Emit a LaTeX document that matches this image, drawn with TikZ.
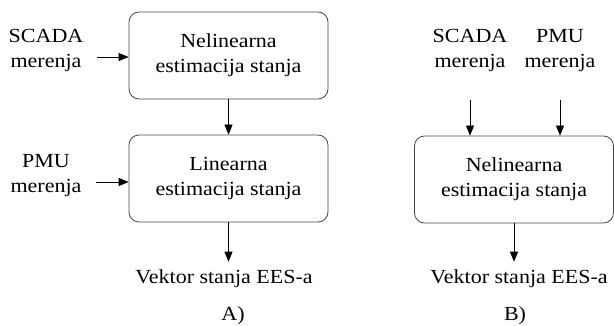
\documentclass[tikz,border=0pt]{standalone}
\usepackage{fontspec}
\setmainfont{Liberation Serif}[FakeStretch=1.1]
\usetikzlibrary{arrows.meta, positioning}
\definecolor{boxgray}{RGB}{70,70,70}
\tikzset{
  est/.style={rectangle, draw=boxgray, rounded corners=10pt,
    minimum width=199pt, minimum height=87pt, align=center,
    line width=0.8pt, inner sep=3pt},
  lbl/.style={align=center, inner sep=2pt},
  arr/.style={-{Triangle[length=10pt,width=8pt]}, line width=0.8pt},
}

\begin{document}
\begin{tikzpicture}[x=1pt, y=-1pt,
                    every node/.style={font=\fontsize{20}{25}\selectfont}]
  \useasboundingbox (0,0) rectangle (614,326);

  % ---- A) two-step estimation ----
  \node[est] (nelA) at (228.5,55.5) {Nelinearna\\estimacija stanja};
  \node[est] (linA) at (228.5,178.5) {Linearna\\estimacija stanja};
  \node[lbl] (scadaA) at (46,51) {SCADA\\merenja};
  \node[lbl] (pmuA)   at (46,176) {PMU\\merenja};
  \node[lbl] (vekA)   at (224,279) {Vektor stanja EES-a};
  \node[lbl] (capA)   at (233,316) {A)};

  % ---- B) joint estimation ----
  \node[est] (nelB) at (514,179.5) {Nelinearna\\estimacija stanja};
  \node[lbl] (scadaB) at (470,51) {SCADA\\merenja};
  \node[lbl] (pmuB)   at (560,51) {PMU\\merenja};
  \node[lbl] (vekB)   at (519,279) {Vektor stanja EES-a};
  \node[lbl] (capB)   at (515,316) {B)};

  % ---- Arrows ----
  \draw[arr, shorten <=12pt] ([yshift=-6pt]scadaA.east) -- ([yshift=-6pt]scadaA.east -| nelA.west);
  \draw[arr, shorten <=12pt] ([yshift=-6pt]pmuA.east) -- ([yshift=-6pt]pmuA.east -| linA.west);
  \draw[arr] (nelA) -- (linA);
  \draw[arr, shorten >=6pt] (linA.south) -- (linA.south |- vekA.north);
  \draw[arr, shorten <=26pt] (scadaB.south) -- (scadaB.south |- nelB.north);
  \draw[arr, shorten <=26pt] (pmuB.south) -- (pmuB.south |- nelB.north);
  \draw[arr, shorten >=6pt] (nelB.south) -- (nelB.south |- vekB.north);
\end{tikzpicture}
\end{document}
